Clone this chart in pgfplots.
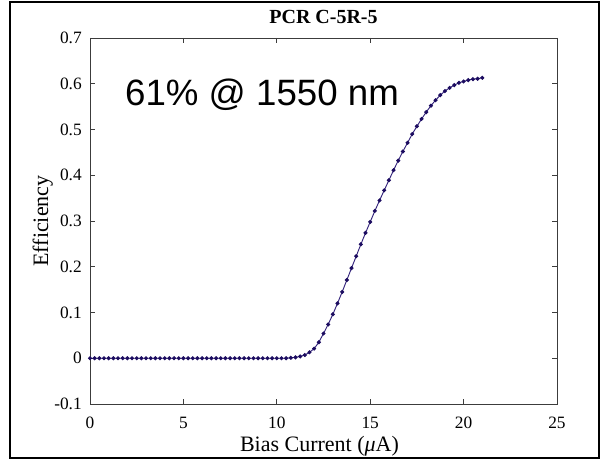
\documentclass[border=0pt]{standalone}
\usepackage{fontspec}
\setmainfont{Liberation Serif}
\newfontfamily\arial{Liberation Sans}
\usepackage{pgfplots}
\pgfplotsset{compat=1.18}
\definecolor{curve}{RGB}{52,36,124}
\definecolor{dots}{RGB}{28,12,96}
\definecolor{axisgray}{RGB}{60,60,60}
\begin{document}
\begin{tikzpicture}
\path[use as bounding box] (0,0) rectangle (450.75pt,345pt);
\draw[black,line width=0.8pt] (7.5pt,1.5pt) rectangle (449.25pt,343.5pt);
\begin{axis}[
  at={(67.5pt,42pt)}, anchor=south west,
  scale only axis, width=350.25pt, height=274.5pt,
  xmin=0, xmax=25, ymin=-0.1, ymax=0.7,
  xtick={0,5,10,15,20,25},
  ytick={-0.1,0,0.1,0.2,0.3,0.4,0.5,0.6,0.7},
  yticklabels={-0.1,0,0.1,0.2,0.3,0.4,0.5,0.6,0.7},
  tick align=inside, major tick length=3.5pt,
  tick style={axisgray,line width=0.5pt},
  axis line style={axisgray,line width=0.6pt},
  /pgf/number format/assume math mode=true,
  tick label style={font=\fontsize{13}{14}\selectfont, inner sep=0pt},
  xticklabel style={anchor=north, yshift=-9.75pt},
  yticklabel style={anchor=east, xshift=-6pt},
  title={\textbf{PCR C-5R-5}},
  title style={at={(axis description cs:0.5,1)}, anchor=base, yshift=4.5pt, inner sep=0pt, font=\fontsize{15}{17}\selectfont},
  xlabel={Bias Current ({\itshape μ}A)},
  xlabel style={at={(axis description cs:0.5,0)}, anchor=base, yshift=-36pt, xshift=-3pt, inner sep=0pt, font=\fontsize{16.5}{18}\selectfont},
  ylabel={Efficiency},
  ylabel style={at={(axis description cs:0,0.5)}, anchor=base, yshift=31.5pt, inner sep=0pt, font=\fontsize{16.5}{18}\selectfont},
  clip=false,
]
\addplot[curve, line width=0.7pt, mark=*, mark size=1.15pt, mark options={dots, draw=dots, fill=dots}] coordinates {
(0,0)(0.25,0)(0.5,0)(0.75,0)(1,0)(1.25,0)(1.5,0)(1.75,0)(2,0)(2.25,0)(2.5,0)(2.75,0)
(3,0)(3.25,0)(3.5,0)(3.75,0)(4,0)(4.25,0)(4.5,0)(4.75,0)(5,0)(5.25,0)(5.5,0)(5.75,0)
(6,0)(6.25,0)(6.5,0)(6.75,0)(7,0)(7.25,0)(7.5,0)(7.75,0)(8,0)(8.25,0)(8.5,0)(8.75,0)
(9,0)(9.25,0)(9.5,0)(9.75,0)(10,0)(10.25,0)(10.5,0)(10.75,0.001)
(11,0.002)(11.25,0.004)(11.5,0.007)(11.75,0.013)(12,0.021)(12.25,0.035)(12.5,0.054)(12.75,0.074)
(13,0.096)(13.25,0.120)(13.5,0.145)(13.75,0.171)(14,0.197)(14.25,0.223)(14.5,0.249)(14.75,0.274)
(15,0.298)(15.25,0.322)(15.5,0.345)(15.75,0.367)(16,0.389)(16.25,0.411)(16.5,0.432)(16.75,0.452)
(17,0.471)(17.25,0.490)(17.5,0.507)(17.75,0.523)(18,0.538)(18.25,0.552)(18.5,0.564)(18.75,0.575)
(19,0.584)(19.25,0.591)(19.5,0.597)(19.75,0.602)(20,0.605)(20.25,0.608)(20.5,0.610)(20.75,0.611)
(21,0.613)
};
\node[anchor=base west, inner sep=0pt, font=\arial\fontsize{27.5}{30}\selectfont] at (axis cs:1.87,0.553) {61\% @ 1550 nm};
\end{axis}
\end{tikzpicture}
\end{document}
